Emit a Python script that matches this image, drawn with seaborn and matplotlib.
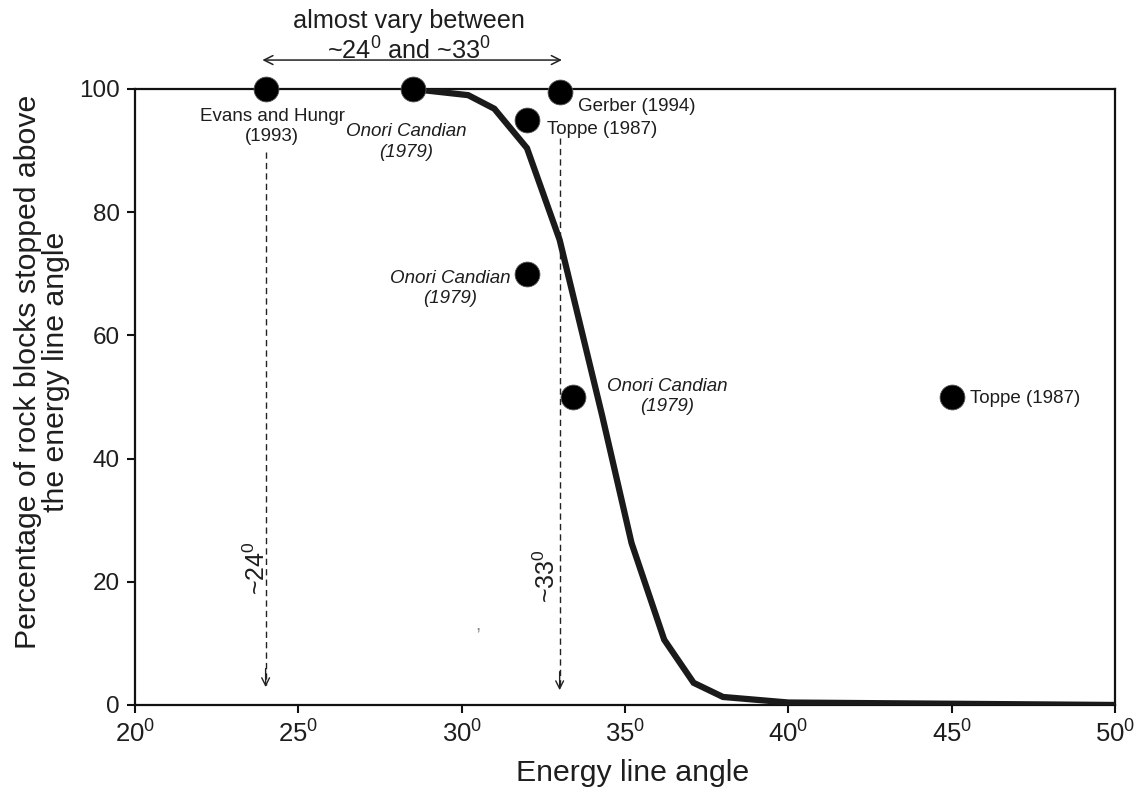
import matplotlib
matplotlib.use("Agg")
import matplotlib.pyplot as plt
from matplotlib import font_manager
import seaborn as sns
import pandas as pd

# ---- data ----
curve_angle = [28.5, 30.2, 31.0, 32.0, 33.0, 34.3, 35.2, 36.2, 37.1, 38.0, 40.0, 45.0, 50.0]
curve_pct = [100, 99.0, 96.8, 90.4, 75.5, 47.0, 26.3, 10.6, 3.6, 1.3, 0.4, 0.2, 0.0]

pt_angle = [24.0, 28.5, 33.0, 32.0, 32.0, 33.4, 45.0]
pt_pct = [100, 100, 99.5, 95.0, 70.0, 50.0, 50.0]

x_ticks = [20, 25, 30, 35, 40, 45, 50]
y_ticks = [0, 20, 40, 60, 80, 100]

sns.set_theme(style="ticks")
names = {f.name for f in font_manager.fontManager.ttflist}
base = "Liberation Sans" if "Liberation Sans" in names else "DejaVu Sans"
plt.rcParams["font.family"] = [base, "DejaVu Sans"]
plt.rcParams["mathtext.fontset"] = "custom"
plt.rcParams["mathtext.rm"] = base
plt.rcParams["mathtext.it"] = base + ":italic"

TXT = "#1e1e1e"
SUP = r"$\mathregular{^0}$"

fig = plt.figure(figsize=(11.35, 7.89), dpi=100)
ax = fig.add_axes([0.1189, 0.1065, 0.8635, 0.7807])

curve_df = pd.DataFrame({"angle": curve_angle, "pct": curve_pct})
pts_df = pd.DataFrame({"angle": pt_angle, "pct": pt_pct})

sns.lineplot(data=curve_df, x="angle", y="pct", ax=ax, color="#1a1a1a",
             linewidth=4.5, sort=False, zorder=3, solid_joinstyle="miter")
sns.scatterplot(data=pts_df, x="angle", y="pct", ax=ax, color="black", s=320,
                edgecolor="#555555", linewidth=0.6, zorder=4, clip_on=False)

ax.set_xlim(20, 50)
ax.set_ylim(0, 100)
ax.set_xticks(x_ticks)
ax.set_xticklabels([r"$\mathregular{%d^0}$" % v for v in x_ticks],
                   fontsize=18.5, color=TXT)
ax.set_yticks(y_ticks)
ax.set_yticklabels([str(v) for v in y_ticks], fontsize=17.5, color=TXT)
ax.tick_params(axis="both", direction="out", length=6, width=1.5, colors="#111111",
               labelcolor=TXT)
ax.tick_params(axis="x", pad=5)
ax.tick_params(axis="y", pad=5)
for s in ax.spines.values():
    s.set_linewidth(1.6)
    s.set_color("#111111")
ax.set_xlabel("")
ax.set_ylabel("")

# axis labels
fig.text(633 / 1135, 1 - 773 / 789, "Energy line angle", fontsize=21.8, color=TXT,
         ha="center", va="center")
fig.text(42 / 1135, 1 - 372 / 789,
         "Percentage of rock blocks stopped above\nthe energy line angle",
         fontsize=21.8, color=TXT, ha="center", va="center", rotation=90,
         linespacing=1.0, multialignment="center")

# point labels
lab = dict(fontsize=13.5, color=TXT)
ax.text(24.2, 93.9, "Evans and Hungr\n(1993)", ha="center", va="center",
        linespacing=1.2, **lab)
ax.text(28.3, 91.4, "Onori Candian\n(1979)", ha="center", va="center",
        style="italic", linespacing=1.25, **lab)
ax.text(33.55, 97.1, "Gerber (1994)", ha="left", va="center", **lab)
ax.text(32.6, 93.5, "Toppe (1987)", ha="left", va="center", **lab)
ax.text(29.65, 67.6, "Onori Candian\n(1979)", ha="center", va="center",
        style="italic", linespacing=1.25, **lab)
ax.text(36.3, 50.1, "Onori Candian\n(1979)", ha="center", va="center",
        style="italic", linespacing=1.25, **lab)
ax.text(45.55, 49.8, "Toppe (1987)", ha="left", va="center", **lab)
ax.text(30.5, 12.8, ",", ha="center", va="center", fontsize=14, color="#888888")

# dashed vertical arrows
for xv, y0, y1 in [(24.0, 89.8, 2.9), (33.0, 92.0, 2.4)]:
    ax.plot([xv, xv], [y0, y1 + 0.3], ls=(0, (4.5, 3)), lw=1.0, color="#222222", zorder=2)
    ax.annotate("", xy=(xv, y1), xytext=(xv, y1 + 3),
                arrowprops=dict(arrowstyle="->", lw=1.0, color="#222222",
                                mutation_scale=14, shrinkA=0, shrinkB=0))
ax.text(23.74, 22.2, "~24" + SUP, rotation=90, ha="center",
        va="center", fontsize=18, color=TXT)
ax.text(32.6, 20.9, "~33" + SUP, rotation=90, ha="center",
        va="center", fontsize=18, color=TXT)

# top double arrow and heading
ax.annotate("", xy=(23.9, 104.7), xytext=(33.07, 104.7), annotation_clip=False,
            arrowprops=dict(arrowstyle="<->", lw=1.1, color="#222222",
                            mutation_scale=16, shrinkA=0, shrinkB=0))
ax.text(28.4, 111.0, "almost vary between", ha="center", va="center",
        fontsize=18.2, color=TXT, clip_on=False)
ax.text(28.4, 106.1, "~24" + SUP + " and ~33" + SUP,
        ha="center", va="center", fontsize=18.2, color=TXT, clip_on=False)

fig.savefig("out.png", dpi=100, facecolor="white")
